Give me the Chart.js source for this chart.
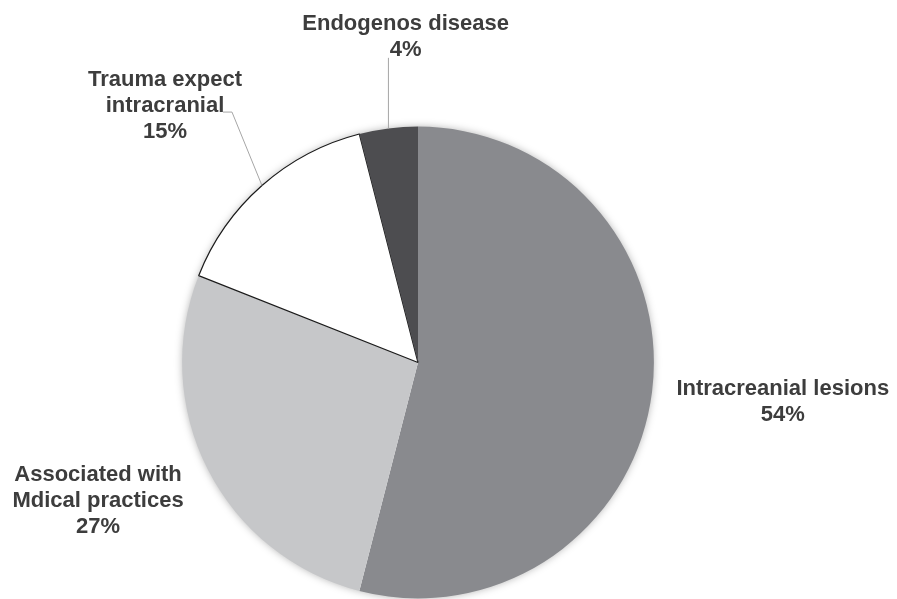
<!DOCTYPE html>
<html>
<head>
<meta charset="utf-8">
<script src="https://cdn.jsdelivr.net/npm/chart.js@4"></script>
<style>
  html, body { margin: 0; padding: 0; background: #fff; }
  #wrap { width: 897px; height: 599px; position: relative; }
</style>
</head>
<body>
<div id="wrap"><canvas id="pieChart"></canvas></div>
<script>
const categories = [
  ["Intracreanial lesions"],
  ["Associated with", "Mdical practices"],
  ["Trauma expect", "intracranial"],
  ["Endogenos disease"]
];
const shares = [54, 27, 15, 4];
const sliceColors = ["#898a8e", "#c6c7c9", "#ffffff", "#4d4d50"];

// label placement along each slice's mid angle (radius factor + nudge)
const labelPlacement = [
  { k: 1.55, dx: 2, dy: -7 },
  { k: 1.47, dx: -11, dy: -20 },
  { k: 1.5, dx: -19, dy: 8, leader: "elbow" },
  { k: 1.4, dx: 29, dy: 1, leader: "vertical" }
];

// soft shadow behind the pie
const pieShadow = {
  id: "pieShadow",
  beforeDatasetsDraw(chart) {
    const arc = chart.getDatasetMeta(0).data[0];
    if (!arc) return;
    const { ctx } = chart;
    ctx.save();
    ctx.shadowColor = "rgba(0,0,0,0.35)";
    ctx.shadowBlur = 9;
    ctx.beginPath();
    ctx.arc(arc.x, arc.y, arc.outerRadius - 1, 0, Math.PI * 2);
    ctx.fillStyle = "#fff";
    ctx.fill();
    ctx.restore();
  }
};

const sliceLabels = {
  id: "sliceLabels",
  afterDatasetsDraw(chart) {
    const { ctx } = chart;
    const meta = chart.getDatasetMeta(0);
    const lineH = 26;
    ctx.save();
    ctx.font = "bold 22px 'Liberation Sans', Arial, sans-serif";
    ctx.fillStyle = "#3d3d3d";
    ctx.textAlign = "center";
    ctx.textBaseline = "middle";

    meta.data.forEach((arc, i) => {
      const p = labelPlacement[i];
      const mid = (arc.startAngle + arc.endAngle) / 2;
      const r = arc.outerRadius;
      const cx = arc.x + Math.cos(mid) * r * p.k + p.dx;
      const cy = arc.y + Math.sin(mid) * r * p.k + p.dy;
      const lines = [...categories[i], shares[i] + "%"];
      const top = cy - (lines.length - 1) * lineH / 2;

      // leader lines
      const ex = arc.x + Math.cos(mid) * r;
      const ey = arc.y + Math.sin(mid) * r;
      if (p.leader) {
        ctx.beginPath();
        ctx.strokeStyle = "#a6a6a6";
        ctx.lineWidth = 1;
        if (p.leader === "elbow") {
          ctx.moveTo(ex, ey);
          ctx.lineTo(cx + 67, cy + 7);
          ctx.lineTo(cx + 58, cy + 7);
        } else {
          ctx.moveTo(ex, ey);
          ctx.lineTo(ex, cy + 22);
        }
        ctx.stroke();
      }

      lines.forEach((t, j) => ctx.fillText(t, cx, top + j * lineH + 1));
    });
    ctx.restore();
  }
};

new Chart(document.getElementById("pieChart"), {
  type: "pie",
  data: {
    labels: categories.map(c => c.join(" ")),
    datasets: [{
      data: shares,
      backgroundColor: sliceColors,
      borderColor: ["#898a8e", "#c6c7c9", "#1a1a1a", "#4d4d50"],
      borderWidth: [0, 0, 1.2, 0]
    }]
  },
  options: {
    responsive: true,
    maintainAspectRatio: false,
    animation: false,
    layout: { padding: { top: 126, bottom: 0, left: 150, right: 211 } },
    plugins: {
      legend: { display: false },
      tooltip: { enabled: false }
    }
  },
  plugins: [pieShadow, sliceLabels]
});
</script>
</body>
</html>
